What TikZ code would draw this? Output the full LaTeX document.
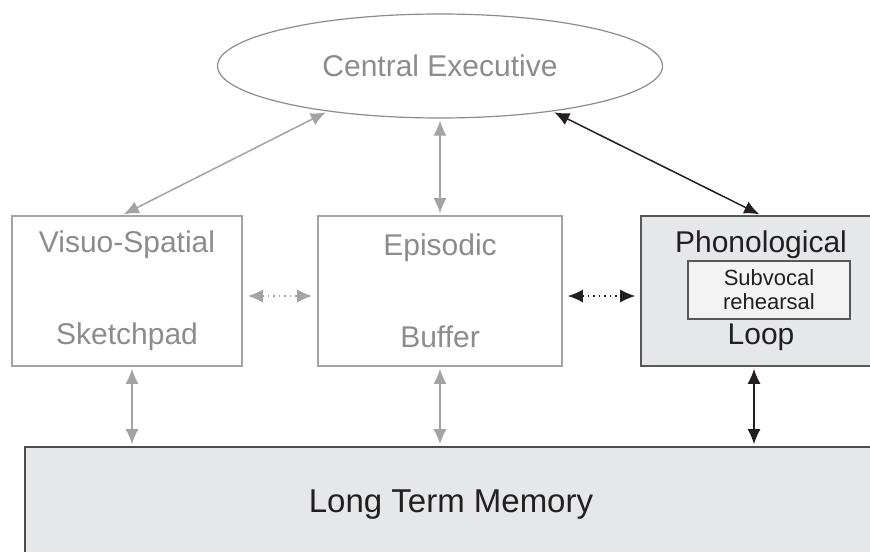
\documentclass[tikz,border=0pt]{standalone}
\usepackage{fontspec}
\setmainfont{Liberation Sans}
\usetikzlibrary{shapes.geometric,arrows.meta}
\definecolor{paleline}{HTML}{A3A3A3}
\definecolor{paletext}{HTML}{8C8C8C}
\definecolor{darkink}{HTML}{231F20}
\definecolor{memfill}{HTML}{E6E7E8}
\definecolor{innerfill}{HTML}{F3F3F3}

\begin{document}
\begin{tikzpicture}[x=0.5pt, y=-0.5pt,
	store/.style = {draw=paleline, line width=0.8pt, minimum height=75pt, inner sep=0pt,
		align=center, text=paletext, font=\fontsize{15}{18}\selectfont},
	link/.style = {{Latex[length=7.5pt,width=6.5pt]}-{Latex[length=7.5pt,width=6.5pt]},
		line width=0.75pt, shorten <=1pt, shorten >=1pt},
	dots/.style = {link, dotted, shorten <=2.5pt, shorten >=2.5pt}]
	\useasboundingbox (0,0) rectangle (870,551);

	\node[ellipse, draw=paletext, line width=0.6pt, minimum width=222.5pt, minimum height=52pt,
		inner sep=0pt, text=paletext, font=\fontsize{15}{18}\selectfont] (ce) at (440,66) {Central Executive};

	\node[store, minimum width=115pt] (vs) at (127,291) {Visuo-Spatial\\[28pt]Sketchpad};
	\node[store, minimum width=122pt] (eb) at (440,291) {Episodic\\[28pt]Buffer};
	\node[store, minimum width=120pt, draw=darkink!75, fill=memfill, text=darkink] (pl) at (761,291)
		{Phonological\\[28pt]Loop};
	\node[draw=darkink!75, line width=0.8pt, fill=innerfill, minimum width=81pt, minimum height=29pt,
		inner sep=0pt, align=center, text=darkink, font=\fontsize{11}{12}\selectfont] (sv) at (769,290)
		{Subvocal\\rehearsal};

	\node[draw=darkink!80, line width=0.8pt, fill=memfill, minimum width=426pt, minimum height=58pt,
		text=darkink, font=\fontsize{16.5}{19}\selectfont] (ltm) at (451,505) {Long Term Memory};

	\draw[link, paleline] ([xshift=-2.5pt]vs.north) -- (ce.202);
	\draw[link, paleline] (eb.north) -- (eb.north |- ce.south);
	\draw[link, darkink] (pl.north) -- (ce.338);

	\draw[dots, paleline] ([yshift=-2.5pt]vs.east) -- ([yshift=-2.5pt]eb.west);
	\draw[dots, darkink] ([yshift=-2.5pt]eb.east) -- ([yshift=-2.5pt]pl.west);

	\foreach \b/\s/\c in {vs/2.5/paleline, eb/0/paleline, pl/-3.5/darkink} {
		\draw[link, \c] ([xshift=\s pt]\b.south) -- ([xshift=\s pt]\b.south |- ltm.north);
	}
\end{tikzpicture}
\end{document}
